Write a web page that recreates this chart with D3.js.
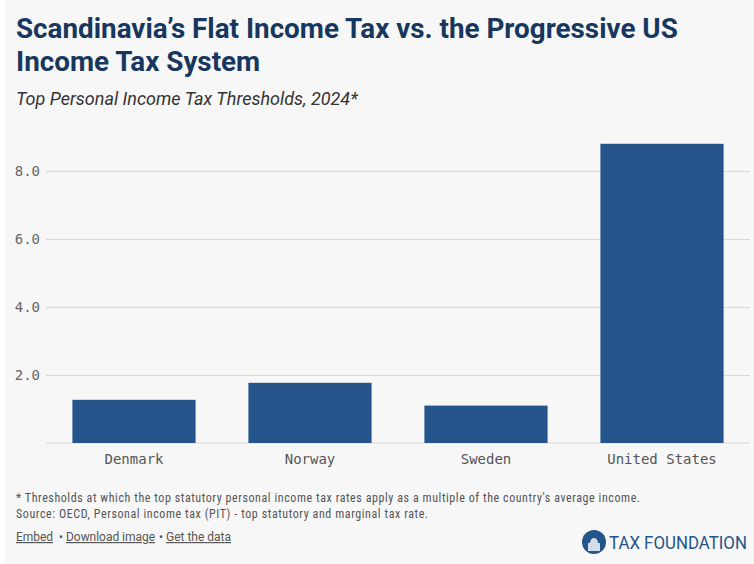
<!DOCTYPE html>
<html>
<head>
<meta charset="utf-8">
<script src="https://cdn.jsdelivr.net/npm/d3@7"></script>
<style>
  body { margin: 0; background: #fff; }
  svg text { font-family: Roboto, "Liberation Sans", sans-serif; }
  .tick text { font-family: "DejaVu Sans Mono", monospace; }
</style>
</head>
<body>
<div id="chart"></div>
<script>
// data
var countries = ["Denmark", "Norway", "Sweden", "United States"];
var thresholds = [1.27, 1.77, 1.10, 8.8];
var yTicks = [2, 4, 6, 8];

var svgWidth = 754;
var svgHeight = 564;

var margin = { top: 137, right: 4, bottom: 121, left: 46 };
var width = svgWidth - margin.left - margin.right;
var height = svgHeight - margin.top - margin.bottom;

var svg = d3.select("#chart")
  .append("svg")
  .attr("width", svgWidth)
  .attr("height", svgHeight);

// light grey panel
svg.append("rect")
  .attr("x", 5)
  .attr("y", 0)
  .attr("width", svgWidth - 5)
  .attr("height", svgHeight)
  .attr("fill", "#f7f7f7");

// titles
svg.append("text")
  .attr("x", 16).attr("y", 38)
  .attr("font-size", 27.8).attr("font-weight", 700)
  .attr("fill", "#17375e")
  .text("Scandinavia\u2019s Flat Income Tax vs. the Progressive US");
svg.append("text")
  .attr("x", 16).attr("y", 71)
  .attr("font-size", 27.8).attr("font-weight", 700)
  .attr("fill", "#17375e")
  .text("Income Tax System");
svg.append("text")
  .attr("x", 16).attr("y", 105)
  .attr("font-size", 18).attr("font-style", "italic")
  .attr("fill", "#333")
  .text("Top Personal Income Tax Thresholds, 2024*");

var chartGroup = svg.append("g")
  .attr("transform", `translate(${margin.left}, ${margin.top})`);

var xScale = d3.scaleBand()
  .domain(countries)
  .range([0, width])
  .paddingInner(0.3)
  .paddingOuter(0.15);

var yScale = d3.scaleLinear()
  .domain([0, 9])
  .range([height, height - 9 * 34]);

// gridlines
var leftAxis = d3.axisLeft(yScale)
  .tickValues(yTicks)
  .tickSize(-width)
  .tickPadding(6)
  .tickFormat(d3.format(".1f"));

var yAxis = chartGroup.append("g").call(leftAxis);
yAxis.select(".domain").remove();
yAxis.selectAll(".tick line").attr("stroke", "#d9d9d9");
yAxis.selectAll(".tick text")
  .attr("font-size", 14)
  .attr("fill", "#666");

// baseline
chartGroup.append("line")
  .attr("x1", 0).attr("x2", width)
  .attr("y1", yScale(0)).attr("y2", yScale(0))
  .attr("stroke", "#d9d9d9");

// bars
chartGroup.selectAll("rect.bar")
  .data(thresholds)
  .enter()
  .append("rect")
  .attr("class", "bar")
  .attr("x", (d, i) => xScale(countries[i]))
  .attr("y", d => yScale(d))
  .attr("width", xScale.bandwidth())
  .attr("height", d => yScale(0) - yScale(d))
  .attr("fill", "#24548a");

var bottomAxis = d3.axisBottom(xScale).tickSize(0).tickPadding(11);
var xAxis = chartGroup.append("g")
  .attr("transform", `translate(0, ${height})`)
  .call(bottomAxis);
xAxis.select(".domain").remove();
xAxis.selectAll(".tick text")
  .attr("font-size", 14)
  .attr("fill", "#555");

// notes
var notes = svg.append("g")
  .attr("font-size", 12)
  .attr("fill", "#555")
  .attr("font-stretch", "condensed");
notes.append("text")
  .attr("x", 16).attr("y", 502)
  .attr("textLength", 624)
  .text("* Thresholds at which the top statutory personal income tax rates apply as a multiple of the country's average income.");
notes.append("text")
  .attr("x", 16).attr("y", 518)
  .attr("textLength", 412)
  .text("Source: OECD, Personal income tax (PIT) - top statutory and marginal tax rate.");

var links = svg.append("g").attr("font-size", 12).attr("fill", "#555");
links.append("text").attr("x", 16).attr("y", 541)
  .attr("text-decoration", "underline").attr("textLength", 37).text("Embed");
links.append("text").attr("x", 59).attr("y", 541).text("\u2022");
links.append("text").attr("x", 66).attr("y", 541)
  .attr("text-decoration", "underline").attr("textLength", 89).text("Download image");
links.append("text").attr("x", 159).attr("y", 541).text("\u2022");
links.append("text").attr("x", 166).attr("y", 541)
  .attr("text-decoration", "underline").attr("textLength", 65).text("Get the data");

// logo
var logo = svg.append("g").attr("transform", "translate(594, 542)");
logo.append("circle").attr("r", 12).attr("fill", "#24548a");
logo.append("rect").attr("x", -6).attr("y", 1).attr("width", 12).attr("height", 8).attr("fill", "#fff").attr("opacity", 0.8);
logo.append("path").attr("d", "M-4,1 A4,5 0 0 1 4,1 Z").attr("fill", "#fff").attr("opacity", 0.8);
var logoText = logo.append("g").attr("transform", "translate(15, 7)")
  .append("text")
  .attr("font-size", 18.5)
  .attr("fill", "#24548a")
  .text("TAX FOUNDATION");
// squeeze the wordmark into the width it has in the reference
var natural = logoText.node().getComputedTextLength();
logoText.attr("transform", `scale(${138 / natural}, 1)`);
</script>
</body>
</html>
